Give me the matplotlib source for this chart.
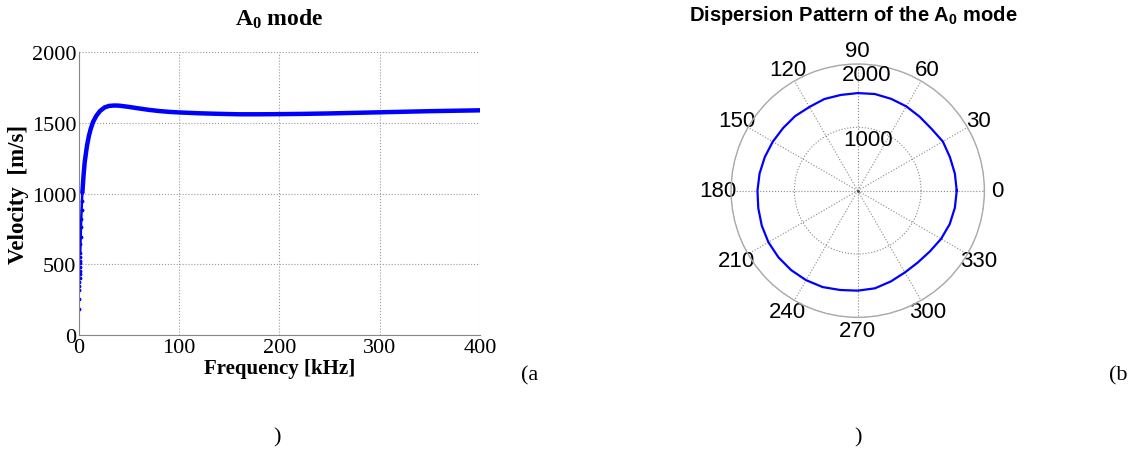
import numpy as np
import matplotlib
matplotlib.use("Agg")
import matplotlib.pyplot as plt

plt.rcParams["mathtext.default"] = "regular"

# A0 mode dispersion curve
# sparse dots at the very low end (kHz, m/s)
low_freq = [0.1, 0.2, 0.3, 0.4, 0.5, 0.6, 0.7, 0.8, 0.9, 1.0, 1.1, 1.2, 1.3,
            1.5, 1.7, 2.0, 2.3, 2.6, 3.0, 3.4]
low_vel = [184, 254, 318, 349, 377, 401, 431, 455, 483, 506, 525, 549, 577,
           640, 690, 760, 820, 880, 950, 1008]

freq = [3.4, 4.5, 5.7, 8, 10, 11.7, 14, 17.4, 21, 25.7, 30, 35, 40,
        50, 60, 70, 80, 90, 100, 120, 140, 160, 180, 200, 225, 250, 275, 300,
        325, 350, 375, 400]
vel = [1008, 1120, 1220, 1338, 1410, 1456, 1505, 1550, 1583, 1609,
       1619, 1622, 1621, 1612, 1601, 1591, 1583, 1577, 1573, 1567, 1563, 1560,
       1560, 1561, 1563, 1566, 1570, 1574, 1578, 1582, 1585, 1588]

# polar dispersion pattern (deg, m/s)
angle = [0, 10, 20, 30, 40, 50, 60, 70, 80, 90, 100, 110, 120, 130, 140, 150,
         160, 170, 180, 190, 200, 210, 220, 230, 240, 250, 260, 270, 280, 290,
         300, 310, 320, 330, 340, 350, 360]
speed = [1563, 1557, 1549, 1552, 1520, 1523, 1536, 1543, 1550, 1541, 1535,
         1540, 1526, 1537, 1538, 1548, 1560, 1573, 1583, 1594, 1612, 1628,
         1635, 1636, 1631, 1619, 1592, 1578, 1565, 1525, 1490, 1478, 1489,
         1520, 1545, 1557, 1563]

serif = "Liberation Serif"
sans = "Liberation Sans"

fig = plt.figure(figsize=(11.46, 4.52), dpi=100)

# left: velocity vs frequency
ax = fig.add_axes([0.0689, 0.2566, 0.3499, 0.6261])
ax.plot(freq, vel, "-", color="#0000ff", lw=3.2, solid_capstyle="round")
ax.plot(low_freq[12:], low_vel[12:], "-", color="#0000ff", lw=1.8)
ax.plot(low_freq, low_vel, ".", color="#0000ff", ms=3.5)
ax.set_xlim(0, 400)
ax.set_ylim(0, 2000)
ax.set_xticks([0, 100, 200, 300, 400])
ax.set_yticks([0, 500, 1000, 1500, 2000])
ax.grid(True, ls=":", color="#999999", lw=0.8)
for s in ["top", "right"]:
    ax.spines[s].set_visible(False)
for s in ["left", "bottom"]:
    ax.spines[s].set_color("#888888")
ax.tick_params(length=0, pad=2, labelsize=16)
for lab in ax.get_xticklabels() + ax.get_yticklabels():
    lab.set_family(serif)
ax.set_xlabel("Frequency [kHz]", family=serif, fontweight="bold", size=15, labelpad=1)
ax.set_ylabel("Velocity  [m/s]", family=serif, fontweight="bold", size=16.5, labelpad=2)
ax.set_title(r"A$_{\mathregular{0}}$ mode", family=serif, fontweight="bold", size=17, pad=20)

# right: polar pattern
pax = fig.add_axes([0.6379, 0.2956, 0.2211, 0.5606], projection="polar")
pax.plot(np.deg2rad(angle), speed, color="#0000ff", lw=1.6)
pax.set_ylim(0, 2000)
pax.set_yticks([1000, 2000])
pax.set_yticklabels([])
pax.set_xticks(np.deg2rad(np.arange(0, 360, 30)))
pax.set_xticklabels([str(a) for a in range(0, 360, 30)], family=sans, size=16)
pax.tick_params(axis="x", pad=-1)
pax.grid(True, ls=":", color="#888888", lw=0.8)
pax.spines["polar"].set_color("#aaaaaa")
pax.spines["polar"].set_linewidth(1.0)
pax.plot([0], [0], ".", color="#444444", ms=2)
pax.text(np.deg2rad(85.6), 1847, "2000", family=sans, size=16, ha="center", va="center")
pax.text(np.deg2rad(78.4), 833, "1000", family=sans, size=16, ha="center", va="center")
fig.text(0.745, 0.966, r"Dispersion Pattern of the A$_{\mathregular{0}}$ mode",
         family=sans, fontweight="bold", size=14.5, ha="center", va="center")

# sub-figure captions
fig.text(0.4625, 0.168, "(a", family=serif, size=16, ha="center", va="center")
fig.text(0.9755, 0.168, "(b", family=serif, size=16, ha="center", va="center")
fig.text(0.2417, 0.032, ")", family=serif, size=16, ha="center", va="center")
fig.text(0.7487, 0.032, ")", family=serif, size=16, ha="center", va="center")

fig.savefig("out.png", dpi=100)
